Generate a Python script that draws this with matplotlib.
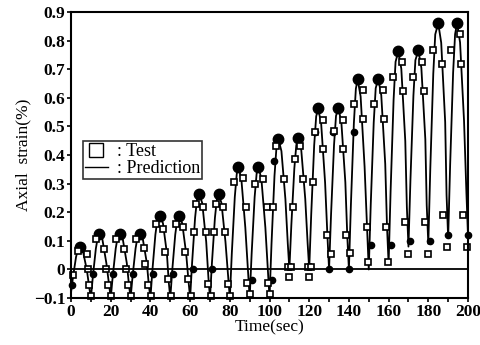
import matplotlib
matplotlib.use("Agg")
import matplotlib.pyplot as plt
from matplotlib.lines import Line2D

# prediction curve, read cycle by cycle (min, rising, peak, falling)
pred_t = [0, 1, 2.5, 3.5, 4.5, 6, 8, 9.2,
          10, 11, 12.5, 13.5, 14.3, 15.8, 17.8, 19.2,
          20, 21, 22.5, 23.5, 24.6, 26.1, 28.1, 29.2,
          30, 31, 32.5, 33.5, 34.7, 36.2, 38.2, 39.2,
          40, 41, 42.5, 43.5, 44.8, 46.3, 48.3, 49.2,
          50, 51, 52.5, 53.5, 54.5, 56, 58, 59.2,
          60, 61, 62.5, 63.5, 64.6, 66.1, 68.1, 69.2,
          70, 71, 72.5, 73.5, 74.3, 75.8, 77.8, 79.2,
          80, 81, 82.5, 83.5, 84.3, 85.8, 87.8, 89.2,
          90, 91, 92.5, 93.5, 94.4, 95.9, 97.9, 99.2,
          100, 101, 102.5, 103.5, 104.5, 106, 108, 109.2,
          110, 111, 112.5, 113.5, 114.5, 116, 118, 119.2,
          120, 121, 122.5, 123.5, 124.5, 126, 128, 129.2,
          130, 131, 132.5, 133.5, 134.7, 136.2, 138.2, 139.2,
          140, 141, 142.5, 143.5, 144.4, 145.9, 147.9, 149.2,
          150, 151, 152.5, 153.5, 154.8, 156.3, 158.3, 159.2,
          160, 161, 162.5, 163.5, 164.9, 166.4, 168.4, 169.2,
          170, 171, 172.5, 173.5, 175, 176.5, 178.5, 179.2,
          180, 181, 182.5, 183.5, 185, 186.5, 188.5, 189.2,
          190, 191, 192.5, 193.5, 194.5, 196, 198, 199.2, 200]
pred_y = [-0.08, -0.026, 0.043, 0.072, 0.08, 0.064, -0.003, -0.064,
          -0.1, -0.024, 0.073, 0.114, 0.125, 0.105, 0.022, -0.055,
          -0.1, -0.024, 0.073, 0.114, 0.125, 0.105, 0.022, -0.055,
          -0.1, -0.024, 0.073, 0.114, 0.125, 0.105, 0.022, -0.055,
          -0.1, -0.002, 0.122, 0.174, 0.188, 0.162, 0.056, -0.042,
          -0.1, -0.002, 0.122, 0.174, 0.188, 0.162, 0.056, -0.042,
          -0.1, 0.024, 0.181, 0.247, 0.265, 0.232, 0.097, -0.027,
          -0.1, 0.024, 0.181, 0.247, 0.265, 0.232, 0.097, -0.027,
          -0.1, 0.056, 0.253, 0.335, 0.358, 0.317, 0.147, -0.008,
          -0.1, 0.056, 0.253, 0.335, 0.358, 0.317, 0.147, -0.008,
          -0.1, 0.089, 0.327, 0.427, 0.455, 0.414, 0.246, 0.091,
          0.0, 0.156, 0.353, 0.435, 0.458, 0.417, 0.247, 0.092,
          0.0, 0.191, 0.434, 0.535, 0.563, 0.512, 0.304, 0.113,
          0.0, 0.192, 0.435, 0.537, 0.565, 0.514, 0.305, 0.113,
          0.0, 0.226, 0.512, 0.632, 0.665, 0.605, 0.359, 0.133,
          0.0, 0.227, 0.514, 0.634, 0.667, 0.609, 0.369, 0.149,
          0.02, 0.273, 0.592, 0.726, 0.763, 0.702, 0.449, 0.217,
          0.08, 0.313, 0.608, 0.732, 0.766, 0.705, 0.455, 0.225,
          0.09, 0.352, 0.684, 0.822, 0.861, 0.793, 0.516, 0.26,
          0.11, 0.365, 0.688, 0.823, 0.861, 0.794, 0.52, 0.268, 0.12]

# peaks of each cycle (big black blobs in the scan)
peak_t = [4.5, 14.3, 24.6, 34.7, 44.8, 54.5, 64.6, 74.3, 84.3, 94.4,
          104.5, 114.5, 124.5, 134.7, 144.4, 154.8, 164.9, 175, 185, 194.5]
peak_y = [0.08, 0.125, 0.125, 0.125, 0.188, 0.188, 0.265, 0.265, 0.358, 0.358,
          0.455, 0.458, 0.563, 0.565, 0.665, 0.667, 0.763, 0.766, 0.861, 0.861]

# test points (hollow squares)
test_t = [1.2, 3.5, 7.8, 8.3, 8.8, 10.3,
          12.8, 16.8, 17.5, 18.6, 20.3,
          22.8, 26.8, 27.5, 28.6, 30.3,
          32.8, 36.8, 37.5, 38.6, 40.3,
          43.0, 46.5, 47.5, 48.7, 50.3,
          53.0, 56.5, 57.5, 58.7, 60.3,
          62.2, 63.2, 66.5, 67.8, 68.9, 70.3,
          72.2, 73.2, 76.5, 77.8, 78.9, 80.3,
          82.1, 86.5, 88.3, 88.6, 90.3,
          92.7, 96.9, 98.6, 99.0, 100.3,
          101.9, 103.5, 107.5, 109.3, 110.0, 111.0,
          111.7, 112.8, 115.5, 117.0, 119.3, 120.0, 121.0,
          121.7, 122.9, 127.1, 127.1, 128.8, 130.8,
          132.5, 137.0, 137.2, 138.7, 140.8,
          142.6, 147.3, 147.3, 149.0, 149.8,
          152.6, 157.3, 157.7, 158.6, 159.6,
          162.4, 166.6, 167.4, 168.3, 170.0,
          172.4, 176.6, 177.8, 178.3, 180.0,
          182.2, 186.7, 187.6, 189.6,
          191.3, 196.0, 196.3, 197.6, 199.5]
test_y = [-0.02, 0.065, 0.055, 0.0, -0.055, -0.092,
          0.105, 0.072, 0.0, -0.056, -0.092,
          0.105, 0.072, 0.0, -0.056, -0.092,
          0.105, 0.075, 0.02, -0.056, -0.092,
          0.16, 0.14, 0.06, -0.035, -0.092,
          0.16, 0.15, 0.06, -0.035, -0.092,
          0.13, 0.23, 0.22, 0.13, -0.05, -0.092,
          0.13, 0.23, 0.22, 0.13, -0.05, -0.092,
          0.305, 0.32, 0.218, -0.048, -0.085,
          0.30, 0.317, 0.218, -0.048, -0.085,
          0.218, 0.43, 0.317, 0.01, -0.025, 0.01,
          0.218, 0.387, 0.43, 0.317, 0.01, -0.025, 0.01,
          0.305, 0.48, 0.523, 0.422, 0.119, 0.055,
          0.484, 0.523, 0.422, 0.119, 0.057,
          0.58, 0.626, 0.527, 0.148, 0.026,
          0.58, 0.626, 0.527, 0.148, 0.026,
          0.672, 0.725, 0.623, 0.165, 0.055,
          0.672, 0.725, 0.623, 0.165, 0.055,
          0.766, 0.717, 0.19, 0.078,
          0.766, 0.822, 0.717, 0.19, 0.078]

# test points lying on the curve (look filled in the scan)
dot_t = [0.3, 11.2, 21.2, 31.2, 41.2, 51.2, 61.2, 71.2, 91.0, 101.0,
         102.5, 123.0, 132.1, 142.6, 130.0, 140.0, 151.0, 161.0,
         170.8, 180.8, 190.0, 200.0]
dot_y = [-0.056, -0.015, -0.015, -0.015, -0.015, -0.015, 0.0, 0.0, -0.036, -0.036,
         0.38, 0.48, 0.48, 0.48, 0.0, 0.0, 0.084, 0.084,
         0.098, 0.098, 0.119, 0.122]

plt.rcParams['font.family'] = ['Liberation Serif', 'DejaVu Serif']

fig = plt.figure(figsize=(4.8, 3.45), dpi=100)
ax = fig.add_axes([0.148, 0.136, 0.827, 0.829])

ax.plot(pred_t, pred_y, color='black', lw=1.3)
ax.plot(peak_t, peak_y, 'o', color='black', ms=7.5)
ax.plot(dot_t, dot_y, 'o', color='black', ms=4.5, clip_on=False)
ax.plot(test_t, test_y, 's', mfc='white', mec='black', mew=1.2, ms=4.0,
        clip_on=False)
ax.axhline(0, color='black', lw=1.3)

ax.set_xlim(0, 200)
ax.set_ylim(-0.1, 0.9)
ax.set_xticks(range(0, 201, 20))
ax.set_xticks(range(0, 201, 10), minor=True)
ax.set_yticks([-0.1, 0, 0.1, 0.2, 0.3, 0.4, 0.5, 0.6, 0.7, 0.8, 0.9])
ax.set_yticklabels(['\u22120.1', '0', '0.1', '0.2', '0.3', '0.4', '0.5',
                    '0.6', '0.7', '0.8', '0.9'])
ax.tick_params(direction='out', length=3, width=1.2, labelsize=12.5, pad=1)
ax.tick_params(which='minor', direction='out', length=3, width=1.2)
for lab in ax.get_xticklabels() + ax.get_yticklabels():
    lab.set_fontweight('bold')
for s in ax.spines.values():
    s.set_linewidth(1.5)

ax.set_xlabel('Time(sec)', fontsize=12.5, labelpad=0)
ax.set_ylabel('Axial  strain(%)', fontsize=12.5, labelpad=2)

handles = [Line2D([], [], ls='none', marker='s', mfc='white', mec='black', ms=10, mew=1),
           Line2D([], [], color='black', lw=1)]
leg = ax.legend(handles, [': Test', ': Prediction'], loc='upper left',
                bbox_to_anchor=(0.03, 0.548), fontsize=13, frameon=True,
                fancybox=False, handlelength=1.3, handletextpad=0.5,
                borderpad=0.1, labelspacing=0.0, borderaxespad=0)
leg.get_frame().set_edgecolor('black')
leg.get_frame().set_linewidth(1.2)

fig.savefig('out.png', dpi=100)
